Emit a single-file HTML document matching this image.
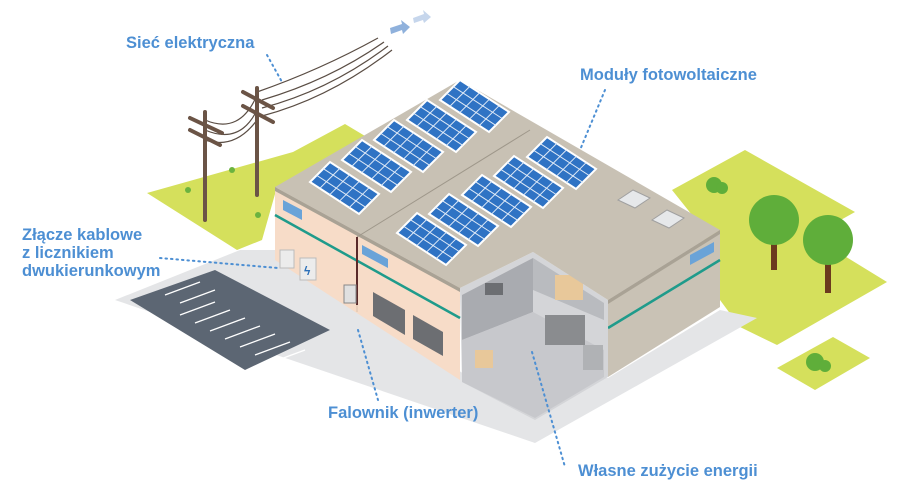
<!DOCTYPE html>
<html><head><meta charset="utf-8"><style>
html,body{margin:0;padding:0;background:#fff;}
svg{display:block}
text{font-family:"Liberation Sans",sans-serif;font-weight:bold;font-size:16.5px;fill:#4d8fd3}
</style></head><body>
<svg width="900" height="495" viewBox="0 0 900 495" xmlns="http://www.w3.org/2000/svg">
<defs>
<g id="pv">
<rect x="0" y="0" width="6" height="3" fill="#2f73c4" stroke="#fff" stroke-width="2" vector-effect="non-scaling-stroke"/>
<path d="M1.2 0V3M2.4 0V3M3.6 0V3M4.8 0V3M0 1H6M0 2H6" stroke="#dfeaf7" stroke-width="1" vector-effect="non-scaling-stroke"/>
</g>
</defs>
<!-- grass -->
<polygon points="147,193 293,152 345,124 365,136 277,187 262,240 237,250" fill="#d5e05c"/>
<polygon points="672,190 745,150 855,212 812,236 887,282 777,345 740,327 720,300 700,225" fill="#d5e05c"/>
<polygon points="777,368 833,337 870,358 815,390" fill="#d5e05c"/>
<!-- ground -->
<polygon points="115,300 240,250 277,250 470,378 608,378 720,310 757,318 535,443" fill="#e4e5e7"/>
<polygon points="130,300 215,270 330,330 245,370" fill="#5c6673"/>
<g stroke="#fff" stroke-width="1.3">
<path d="M180,315 l35,-13 M195,323 l35,-13 M210,331 l35,-13 M225,339 l35,-13 M240,347 l35,-13 M255,355 l35,-13 M270,363 l35,-13"/>
<path d="M165,295 l35,-13 M180,303 l35,-13"/>
</g>
<!-- poles and wires -->
<g fill="none" stroke="#5a4d44" stroke-width="1.2">
<path d="M205,120 Q240,135 257,95 M205,130 Q240,145 257,110 M205,140 Q235,150 257,120"/>
<path d="M257,92 Q320,70 378,38 M262,100 Q330,80 384,42 M262,108 Q330,90 388,46 M262,116 Q330,98 392,50"/>
</g>
<g stroke="#6b5446" stroke-linecap="round">
<line x1="205" y1="112" x2="205" y2="220" stroke-width="4"/>
<line x1="257" y1="88" x2="257" y2="195" stroke-width="4"/>
<line x1="190" y1="118" x2="222" y2="133" stroke-width="4"/>
<line x1="190" y1="130" x2="220" y2="145" stroke-width="4"/>
<line x1="243" y1="92" x2="273" y2="108" stroke-width="4"/>
<line x1="243" y1="106" x2="273" y2="122" stroke-width="4"/>
</g>
<polygon points="390,28 402,24 401,20 410,27 403,34 402,30 391,34" fill="#8fb1dc"/>
<polygon points="413,18 424,14 423,10 431,17 424,23 423,20 414,23" fill="#c6d6ec"/>
<!-- building walls -->
<polygon points="275,187 460,288 460,380 275,260" fill="#f7dcc8"/>
<polygon points="608,300 720,230 720,307 608,377" fill="#c9c2b5"/>
<line x1="275" y1="215" x2="460" y2="318" stroke="#1f9b8b" stroke-width="2.5"/>
<line x1="608" y1="328" x2="720" y2="260" stroke="#1f9b8b" stroke-width="2.5"/>
<line x1="357" y1="237" x2="357" y2="312" stroke="#d9c0ad" stroke-width="1"/>
<!-- interior -->
<polygon points="460,288 533,252 608,300 608,377 535,420 462,382" fill="#d4d5d8"/>
<polygon points="462,295 533,258 533,312 462,340" fill="#a9abb0"/>
<polygon points="533,258 604,303 604,320 533,290" fill="#b9bbbf"/>
<polygon points="462,340 533,312 604,350 604,377 535,418 462,382" fill="#c7c8cc"/>
<rect x="555" y="275" width="28" height="25" fill="#e8c89a"/>
<rect x="475" y="350" width="18" height="18" fill="#e8c89a"/>
<rect x="545" y="315" width="40" height="30" fill="#8a8c8f"/>
<rect x="583" y="345" width="20" height="25" fill="#b0b2b5"/>
<rect x="485" y="283" width="18" height="12" fill="#6c6e72"/>
<!-- roof -->
<polygon points="275,187 460,80 720,230 608,300 533,252 460,288" fill="#c8c1b4"/>
<polygon points="275,187 460,288 460,292 275,191" fill="#a9a295"/>
<polygon points="608,300 720,230 720,234 608,304" fill="#a9a295"/>
<line x1="357" y1="237" x2="530" y2="130" stroke="#9e978a" stroke-width="1"/>
<path d="M357,237 L357,305" stroke="#5a2a2a" stroke-width="2"/>
<!-- skylights -->
<polygon points="618,200 633,190 650,198 635,208" fill="#e6e8ea" stroke="#a0a0a0"/>
<polygon points="652,220 667,210 684,218 669,228" fill="#e6e8ea" stroke="#a0a0a0"/>
<!-- windows -->
<polygon points="283,200 302,210 302,220 283,210" fill="#6aa3d8"/>
<polygon points="362,245 388,259 388,268 362,254" fill="#6aa3d8"/>
<polygon points="690,255 714,242 714,252 690,265" fill="#6aa3d8"/>
<polygon points="373,292 405,310 405,335 373,316" fill="#6c6e72"/>
<polygon points="413,315 443,332 443,356 413,339" fill="#6c6e72"/>
<!-- meter boxes / inverter -->
<rect x="280" y="250" width="14" height="18" fill="#ececec" stroke="#bbb"/>
<rect x="300" y="258" width="16" height="22" fill="#ececec" stroke="#bbb"/>
<text x="304" y="275" style="font-size:12px;fill:#2a6fb8">ϟ</text>
<rect x="344" y="285" width="12" height="18" fill="#e0e0e0" stroke="#888"/>
<!-- solar panels -->
<g>
<use href="#pv" transform="matrix(8.17,5.33,6.67,-6.67,310,182)"/>
<use href="#pv" transform="matrix(8.17,5.33,6.67,-6.67,342,160)"/>
<use href="#pv" transform="matrix(8.17,5.33,6.67,-6.67,374,140)"/>
<use href="#pv" transform="matrix(8.17,5.33,6.67,-6.67,407,120)"/>
<use href="#pv" transform="matrix(8.17,5.33,6.67,-6.67,440,100)"/>
<use href="#pv" transform="matrix(8.17,5.33,6.67,-6.67,397,233)"/>
<use href="#pv" transform="matrix(8.17,5.33,6.67,-6.67,429,214)"/>
<use href="#pv" transform="matrix(8.17,5.33,6.67,-6.67,462,195)"/>
<use href="#pv" transform="matrix(8.17,5.33,6.67,-6.67,494,176)"/>
<use href="#pv" transform="matrix(8.17,5.33,6.67,-6.67,527,157)"/>
</g>
<!-- trees & bushes -->
<rect x="771" y="225" width="6" height="45" fill="#6b3a1e"/>
<circle cx="774" cy="220" r="25" fill="#5fae3a"/>
<rect x="825" y="245" width="6" height="48" fill="#6b3a1e"/>
<circle cx="828" cy="240" r="25" fill="#5fae3a"/>
<circle cx="714" cy="185" r="8" fill="#5fae3a"/><circle cx="722" cy="188" r="6" fill="#5fae3a"/>
<circle cx="815" cy="362" r="9" fill="#5fae3a"/><circle cx="825" cy="366" r="6" fill="#5fae3a"/>
<circle cx="232" cy="170" r="3" fill="#6bb33f"/><circle cx="188" cy="190" r="3" fill="#6bb33f"/><circle cx="258" cy="215" r="3" fill="#6bb33f"/>
<!-- leaders -->
<g stroke="#4d8fd3" stroke-width="2" stroke-dasharray="1.5 4" fill="none" stroke-linecap="round">
<path d="M267,55 L282,82"/>
<path d="M605,90 L580,150"/>
<path d="M160,258 L278,268"/>
<path d="M358,330 L378,400"/>
<path d="M532,352 L565,467"/>
</g>
<!-- labels -->
<text x="126" y="48">Sieć elektryczna</text>
<text x="580" y="80">Moduły fotowoltaiczne</text>
<text x="22" y="240">Złącze kablowe</text>
<text x="22" y="258">z licznikiem</text>
<text x="22" y="276">dwukierunkowym</text>
<text x="328" y="418">Falownik (inwerter)</text>
<text x="578" y="476">Własne zużycie energii</text>
</svg>
</body></html>
